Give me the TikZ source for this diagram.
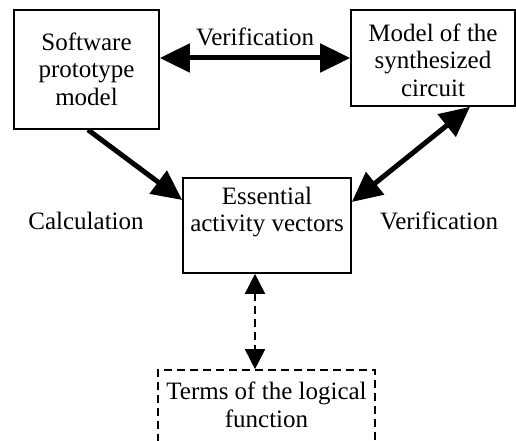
\documentclass[tikz,border=0pt]{standalone}
\usepackage{fontspec}
\setmainfont{Liberation Serif}
\usetikzlibrary{arrows.meta}
\tikzset{
  box/.style={draw, line width=1.6pt, rectangle, inner sep=0pt},
  dbox/.style={draw, line width=1.6pt, dash pattern=on 8pt off 5pt, rectangle, inner sep=0pt},
  txt/.style={align=center, inner sep=0pt, font=\fontsize{25}{27.5}\selectfont},
  bigarrow/.style={line width=5pt, {Triangle[length=30pt,width=28pt]}-{Triangle[length=30pt,width=28pt]}},
  onearrow/.style={line width=5pt, -{Triangle[length=30pt,width=28pt]}},
  dasharrow/.style={line width=1.6pt, dash pattern=on 8pt off 5pt, {Triangle[length=20pt,width=20pt]}-{Triangle[length=20pt,width=20pt]}}
}
\begin{document}
\begin{tikzpicture}[x=1pt,y=-1pt]
\useasboundingbox (0,0) rectangle (516,441);
% boxes
\node[box, minimum width=145pt, minimum height=119pt] (A) at (86.5,69.5) {};
\node[box, minimum width=164pt, minimum height=96pt] (B) at (433,58) {};
\node[box, minimum width=168pt, minimum height=95pt] (C) at (267,225.5) {};
\node[dbox, minimum width=217pt, minimum height=100pt] (D) at (266.5,420) {};
% box texts
\node[txt] (At) at (86.5,69) {Software\\prototype\\model};
\node[txt] (Bt) at (433,60) {Model of the\\synthesized\\circuit};
\node[txt] (Ct) at (267,212) {Essential\\activity vectors};
\node[txt] (Dt) at (266.5,405) {Terms of the logical\\function};
% side labels
\node[txt] (L1) at (86,221) {Calculation};
\node[txt] (L2) at (439,221) {Verification};
\node[txt] (L3) at (255,37) {Verification};
% connector ends
\coordinate (a1) at (A.east |- 0,58);
\coordinate (b1) at (B.west |- 0,58);
\coordinate (a2) at (A.south -| 88,0);
\coordinate (c1) at (C.west |- 0,200);
\coordinate (c2) at (C.east |- 0,202);
\coordinate (b2) at (B.south -| 470,0);
\coordinate (c3) at (C.south -| 255,0);
\coordinate (d1) at (D.north -| 255,0);
% connectors
\draw[bigarrow] (a1) -- (b1);
\draw[onearrow] (a2) -- (c1);
\draw[bigarrow] (c2) -- (b2);
\draw[dasharrow] (c3) -- (d1);
\end{tikzpicture}
\end{document}
